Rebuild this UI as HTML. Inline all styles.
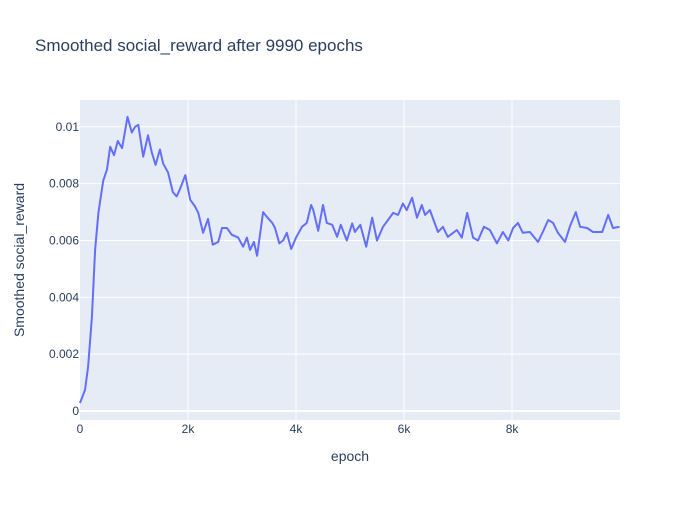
<!DOCTYPE html>
<html><head><meta charset="utf-8"><style>
body{margin:0;background:#fff;font-family:"Liberation Sans",Arial,sans-serif;}
svg text{font-family:"Liberation Sans",Arial,sans-serif;fill:#2a3f5f;}
</style></head><body>
<svg id="chart" width="700" height="500" xmlns="http://www.w3.org/2000/svg">
<rect width="700" height="500" fill="#fff"/>
<rect x="80" y="100" width="540" height="320" fill="#e5ecf6"/>
<g id="grid"></g>
<g id="ticks"></g>
<path id="line" fill="none" stroke="#636efa" stroke-width="2" stroke-linejoin="round"/>
<text x="35" y="51" font-size="17">Smoothed social_reward after 9990 epochs</text>
<text x="350" y="461" font-size="14" text-anchor="middle">epoch</text>
<text transform="translate(24,260) rotate(-90)" font-size="14" text-anchor="middle">Smoothed social_reward</text>
</svg>
<script>
const epochs=[0,93,150,220,280,340,430,500,560,630,700,780,880,960,1020,1080,1170,1260,1330,1400,1480,1540,1630,1720,1790,1850,1950,2040,2130,2190,2280,2370,2460,2560,2630,2720,2810,2930,3020,3090,3150,3220,3280,3390,3460,3560,3610,3690,3760,3830,3910,4000,4110,4200,4280,4320,4410,4500,4570,4670,4760,4830,4940,5040,5090,5190,5300,5410,5500,5610,5800,5890,5980,6050,6150,6240,6330,6390,6480,6630,6720,6810,6980,7070,7170,7280,7370,7480,7590,7720,7830,7930,8020,8110,8200,8330,8480,8570,8670,8760,8850,8980,9070,9180,9260,9390,9500,9670,9780,9870,9990];
const rewards=[0.28,0.74,1.55,3.3,5.67,6.97,8.1,8.5,9.3,9.0,9.5,9.25,10.35,9.8,10.0,10.07,8.95,9.7,9.1,8.66,9.2,8.7,8.4,7.7,7.55,7.8,8.3,7.43,7.2,6.97,6.27,6.76,5.85,5.95,6.44,6.44,6.2,6.1,5.78,6.1,5.67,5.95,5.46,7.0,6.83,6.62,6.44,5.9,6.0,6.27,5.7,6.1,6.48,6.62,7.25,7.07,6.34,7.25,6.62,6.55,6.13,6.55,6.0,6.6,6.3,6.55,5.78,6.8,6.0,6.48,6.97,6.9,7.3,7.07,7.5,6.8,7.25,6.9,7.07,6.3,6.48,6.13,6.37,6.1,6.97,6.1,6.0,6.48,6.37,5.9,6.3,6.0,6.44,6.62,6.27,6.3,5.95,6.3,6.72,6.62,6.27,5.95,6.48,7.0,6.48,6.44,6.3,6.3,6.9,6.44,6.48].map(v=>v/1000);
const xTicks=[0,2000,4000,6000,8000];
const xTickLabels=["0","2k","4k","6k","8k"];
const yTicks=[0,0.002,0.004,0.006,0.008,0.01];
const yTickLabels=["0","0.002","0.004","0.006","0.008","0.01"];
const NS="http://www.w3.org/2000/svg";
const xs=e=>80+e*(539.5/9990);
const ys=v=>411-v*28420;
const grid=document.getElementById('grid'),ticks=document.getElementById('ticks');
xTicks.forEach((t,i)=>{
 if(t>0){const l=document.createElementNS(NS,'line');
 
 
 l.setAttribute('x1',xs(t));l.setAttribute('x2',xs(t));l.setAttribute('y1',100);l.setAttribute('y2',420);l.setAttribute('stroke','#fff');l.setAttribute('stroke-width','1');grid.appendChild(l);}
 const tx=document.createElementNS(NS,'text');
 
 
 tx.setAttribute('x',xs(t));tx.setAttribute('y',433);tx.setAttribute('font-size','12');tx.setAttribute('text-anchor','middle');tx.textContent=xTickLabels[i];ticks.appendChild(tx);
});
yTicks.forEach((t,i)=>{
 const l=document.createElementNS(NS,'line');
 
 
 l.setAttribute('x1',80);l.setAttribute('x2',620);l.setAttribute('y1',ys(t));l.setAttribute('y2',ys(t));l.setAttribute('stroke','#fff');l.setAttribute('stroke-width',t===0?'2':'1');grid.appendChild(l);
 const tx=document.createElementNS(NS,'text');
 
 
 tx.setAttribute('x',79);tx.setAttribute('y',ys(t)+4);tx.setAttribute('font-size','12');tx.setAttribute('text-anchor','end');tx.textContent=yTickLabels[i];ticks.appendChild(tx);
});
document.getElementById('line').setAttribute('d',epochs.map((e,i)=>(i?'L':'M')+xs(e).toFixed(1)+','+ys(rewards[i]).toFixed(1)).join(''));
</script>
</body></html>
